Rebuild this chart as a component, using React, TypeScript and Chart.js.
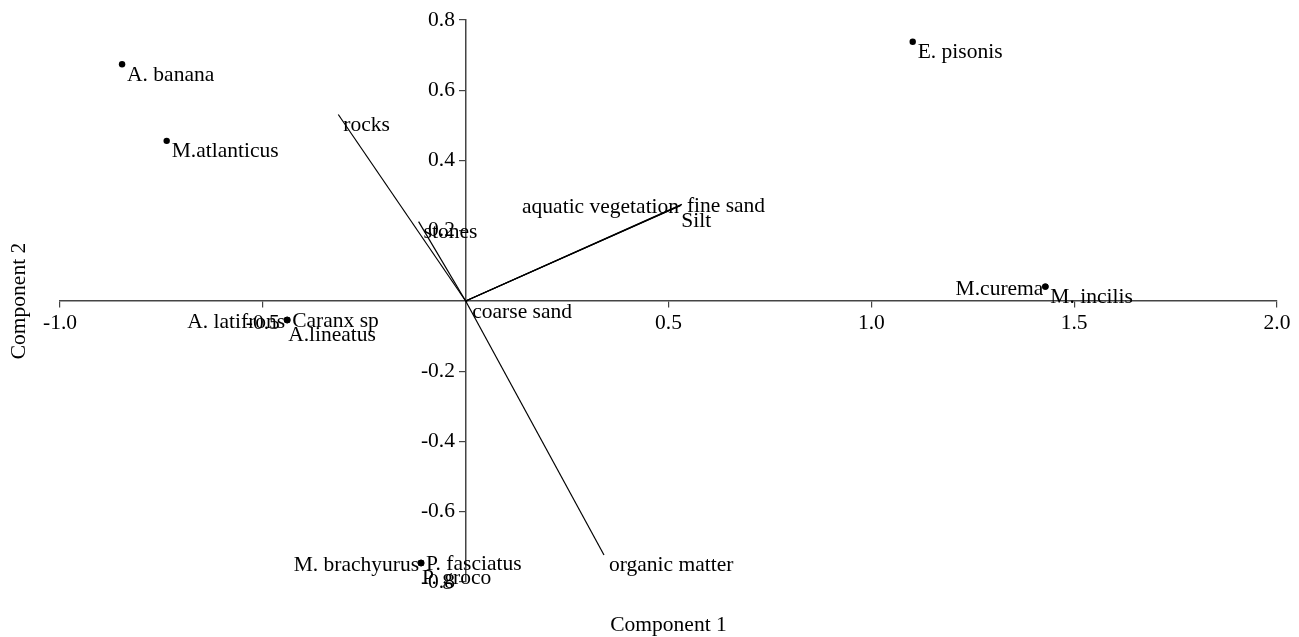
import React, { useEffect, useRef } from "react";
import { Chart, registerables } from "chart.js";

Chart.register(...registerables);

// Species (PCA scores)
const speciesNames = [
  "A. banana",
  "M.atlanticus",
  "E. pisonis",
  "M.curema",
  "M. incilis",
  "A. latifrons",
  "Caranx sp",
  "A.lineatus",
  "M. brachyurus",
  "P. fasciatus",
  "P. groco",
];
const speciesX = [-0.847, -0.737, 1.102, 1.429, 1.429, -0.44, -0.44, -0.44, -0.11, -0.11, -0.11];
const speciesY = [0.674, 0.456, 0.738, 0.041, 0.041, -0.054, -0.054, -0.054, -0.746, -0.746, -0.746];
const speciesPlace = ["tl", "tl", "tl", "L", "tl", "L", "R", "B", "L", "R", "B"];

// Environmental variables (loadings)
const varNames = ["rocks", "stones", "aquatic vegetation", "fine sand", "Silt", "coarse sand", "organic matter"];
const varX = [-0.314, -0.116, 0.531, 0.533, 0.529, 0.004, 0.341];
const varY = [0.531, 0.226, 0.273, 0.275, 0.271, -0.002, -0.723];
const varPlace = ["tl", "tl", "L", "R", "B", "tl", "tl"];

// Axes
const xMin = -1.0;
const xMax = 2.0;
const xStep = 0.5;
const yMin = -0.8;
const yMax = 0.8;
const yStep = 0.2;
const xTitle = "Component 1";
const yTitle = "Component 2";

const FONT = '"Liberation Serif", "Times New Roman", serif';
const FSIZE = 21.5;

const labelPlugin = {
  id: "biplotLabels",
  afterDatasetsDraw(chart: any) {
    const ctx = chart.ctx as CanvasRenderingContext2D;
    ctx.save();
    ctx.font = `${FSIZE}px ${FONT}`;
    ctx.fillStyle = "#000";
    const draw = (text: string, x: number, y: number, place: string) => {
      if (place === "L") {
        ctx.textAlign = "right";
        ctx.textBaseline = "middle";
        ctx.fillText(text, x - 2, y + 2.5);
      } else if (place === "R") {
        ctx.textAlign = "left";
        ctx.textBaseline = "middle";
        ctx.fillText(text, x + 5, y + 1.5);
      } else if (place === "B") {
        ctx.textAlign = "left";
        ctx.textBaseline = "top";
        ctx.fillText(text, x + 1, y + 5);
      } else {
        ctx.textAlign = "left";
        ctx.textBaseline = "top";
        ctx.fillText(text, x + 5, y);
      }
    };
    const sm = chart.getDatasetMeta(0);
    sm.data.forEach((el: any, i: number) => draw(speciesNames[i], el.x, el.y, speciesPlace[i]));
    varNames.forEach((n, i) => {
      const m = chart.getDatasetMeta(1 + i);
      const el = m.data[1];
      draw(n, el.x, el.y, varPlace[i]);
    });
    const ca = chart.chartArea;
    ctx.textAlign = "center";
    ctx.textBaseline = "middle";
    ctx.fillText(xTitle, (ca.left + ca.right) / 2, ca.bottom + 43);
    ctx.save();
    ctx.translate(ca.left - 41, (ca.top + ca.bottom) / 2);
    ctx.rotate(-Math.PI / 2);
    ctx.fillText(yTitle, 0, 0);
    ctx.restore();
    ctx.restore();
  },
};

const fmtX = (v: any) => {
  const n = Number(v);
  if (Math.abs(n) < 1e-9) return null;
  return n.toFixed(1);
};
// y labels are right-aligned on the axis line; trailing spaces keep the gap
const fmtY = (v: any) => {
  const n = Number(v);
  if (Math.abs(n) < 1e-9) return null;
  return n.toFixed(1) + "  ";
};

export default function App() {
  const ref = useRef<HTMLCanvasElement | null>(null);
  useEffect(() => {
    if (!ref.current) return;
    const datasets: any[] = [
      {
        label: "species",
        data: speciesX.map((x, i) => ({ x, y: speciesY[i] })),
        pointRadius: 3.2,
        pointBackgroundColor: "#000",
        pointBorderWidth: 0,
        showLine: false,
      },
      ...varNames.map((n, i) => ({
        label: n,
        data: [
          { x: 0, y: 0 },
          { x: varX[i], y: varY[i] },
        ],
        showLine: true,
        borderColor: "#000",
        borderWidth: 1.2,
        pointRadius: 0,
        fill: false,
      })),
    ];
    const tickFont = { family: FONT, size: FSIZE };
    const chart = new Chart(ref.current, {
      type: "scatter",
      data: { datasets },
      plugins: [labelPlugin],
      options: {
        animation: false,
        responsive: false,
        devicePixelRatio: 1,
        layout: { padding: { left: 60, right: 22, top: 20, bottom: 55 } },
        plugins: { legend: { display: false }, tooltip: { enabled: false } },
        scales: {
          x: {
            type: "linear",
            min: xMin,
            max: xMax,
            position: { y: 0 } as any,
            border: { display: true, color: "#444", width: 1.5 },
            grid: { display: true, drawOnChartArea: false, drawTicks: true, tickLength: 6, color: "#444", lineWidth: 1.2 },
            ticks: { stepSize: xStep, autoSkip: false, maxRotation: 0, padding: 3, color: "#000", font: tickFont, callback: fmtX },
          },
          y: {
            type: "linear",
            min: yMin,
            max: yMax,
            position: { x: 0 } as any,
            border: { display: true, color: "#444", width: 1.5 },
            grid: { display: true, drawOnChartArea: false, drawTicks: true, tickLength: 6, color: "#444", lineWidth: 1.2 },
            ticks: { stepSize: yStep, autoSkip: false, padding: 3, color: "#000", font: tickFont, callback: fmtY },
          },
        },
      } as any,
    });
    return () => chart.destroy();
  }, []);
  return (
    <div style={{ position: "fixed", left: 0, top: 0, width: 1299, height: 637, background: "#fff" }}>
      <canvas ref={ref} width={1299} height={637} style={{ display: "block" }} />
    </div>
  );
}
